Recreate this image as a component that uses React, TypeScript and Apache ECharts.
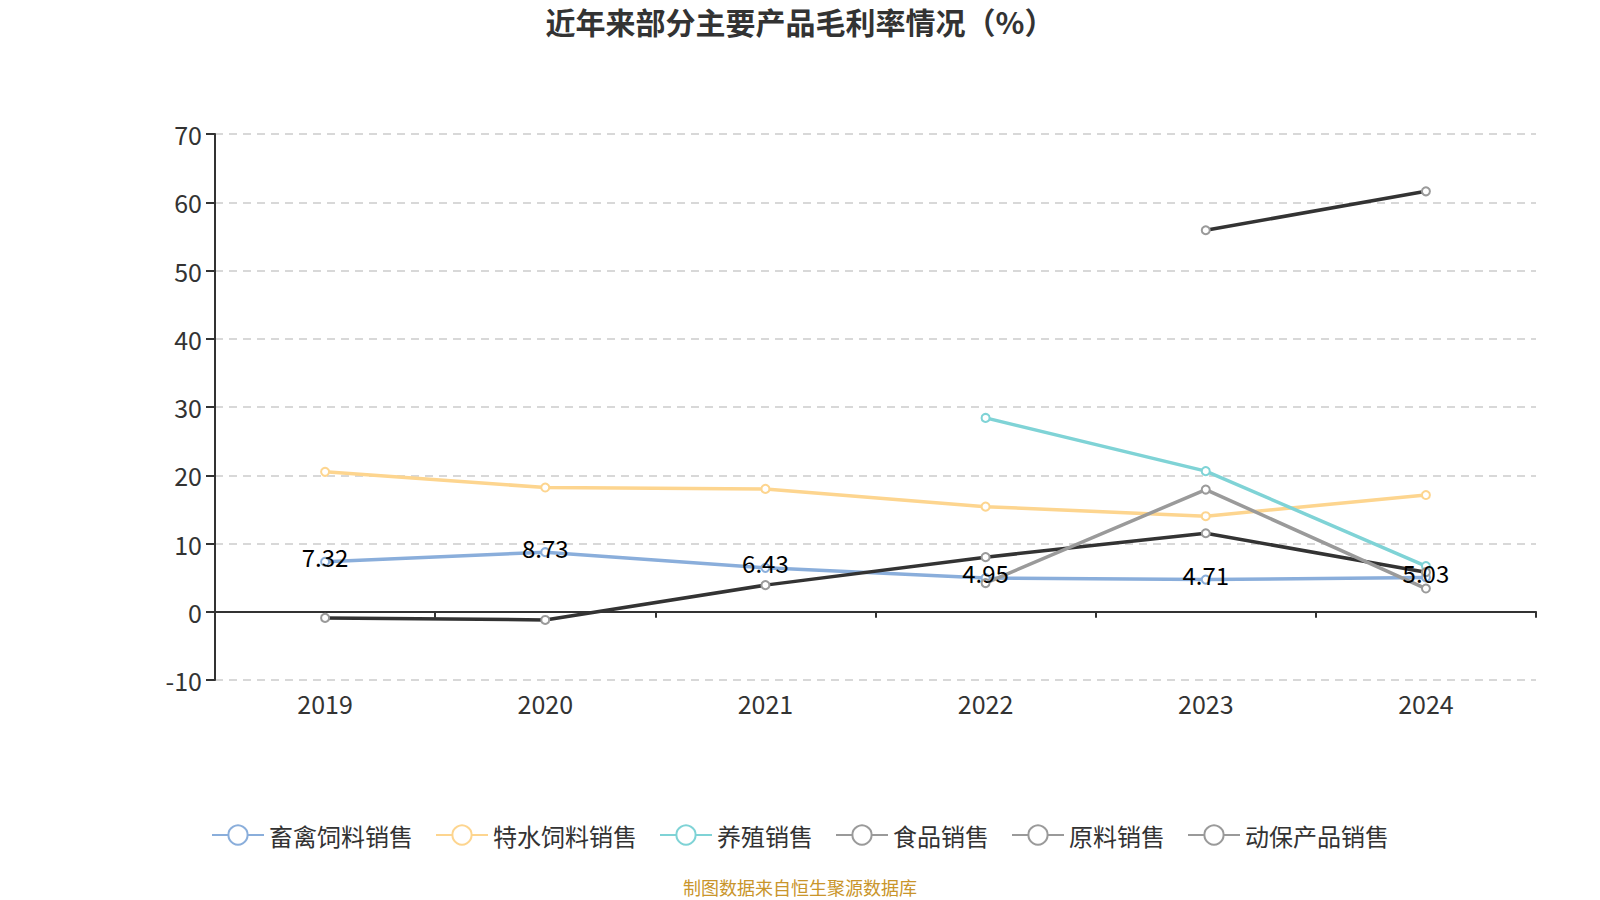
import React, { useEffect, useRef } from "react";
import * as echarts from "echarts";

const years = ["2019", "2020", "2021", "2022", "2023", "2024"];
const livestockFeed = [7.32, 8.73, 6.43, 4.95, 4.71, 5.03];
const specialAquaFeed = [20.5, 18.2, 18.0, 15.4, 14.0, 17.1];
const farming = [null, null, null, 28.4, 20.6, 6.7];
const food = [-0.9, -1.2, 3.9, 8.0, 11.5, 5.8];
const rawMaterial = [null, null, null, 4.2, 17.9, 3.4];
const animalHealth = [null, null, null, null, 55.9, 61.6];

const seriesNames = ["畜禽饲料销售", "特水饲料销售", "养殖销售", "食品销售", "原料销售", "动保产品销售"];
const yTicks = { min: -10, max: 70, interval: 10 };

export default function App() {
  const ref = useRef<HTMLDivElement>(null);
  useEffect(() => {
    if (!ref.current) return;
    const chart = echarts.init(ref.current, undefined, { renderer: "svg" });
    const font = "'Noto Sans CJK SC', 'Noto Sans', sans-serif";
    const grey = "#9a9a9a";
    const mk = (name: string, data: any[], color: string, lineColor: string, label = false) => ({
      name,
      type: "line",
      data,
      symbol: "emptyCircle",
      symbolSize: 8,
      connectNulls: false,
      itemStyle: { color, borderWidth: 2 },
      lineStyle: { color: lineColor, width: 3.5 },
      label: label
        ? { show: true, position: "inside", offset: [0, -5], color: "#000", fontSize: 24, fontFamily: font }
        : { show: false },
    });
    const legendColors = ["#8aaedb", "#fdd58f", "#7fd3d6", grey, grey, grey];
    chart.setOption({
      animation: false,
      backgroundColor: "#fff",
      title: {
        text: "近年来部分主要产品毛利率情况（%）",
        left: "center",
        top: 1,
        textStyle: { fontSize: 30, fontWeight: "bold", color: "#333", fontFamily: font },
      },
      legend: {
        bottom: 48,
        left: "center",
        itemWidth: 52,
        itemHeight: 24,
        itemGap: 22,
        textStyle: { fontSize: 24, color: "#333", fontFamily: font },
        data: seriesNames.map((n, i) => ({
          name: n,
          itemStyle: { color: legendColors[i] },
          lineStyle: { color: legendColors[i] },
        })),
      },
      graphic: [
        {
          type: "text",
          x: 800,
          y: 887,
          style: {
            text: "制图数据来自恒生聚源数据库",
            fill: "#c9952b",
            fontSize: 18,
            fontFamily: font,
            textAlign: "center",
            textVerticalAlign: "middle",
          },
        },
      ],
      grid: { left: 215, right: 64, top: 134, bottom: 220, containLabel: false },
      xAxis: {
        type: "category",
        data: years,
        boundaryGap: true,
        axisLine: { onZero: true, lineStyle: { color: "#333", width: 2 } },
        axisTick: { show: true, length: 6, lineStyle: { color: "#333", width: 2 } },
        axisLabel: { fontSize: 25, color: "#333", margin: 10, fontFamily: font },
      },
      yAxis: {
        type: "value",
        min: yTicks.min,
        max: yTicks.max,
        interval: yTicks.interval,
        axisLine: { show: true, lineStyle: { color: "#333", width: 2 } },
        axisTick: { show: true, length: 9, lineStyle: { color: "#333", width: 2 } },
        axisLabel: { fontSize: 25, color: "#333", margin: 13, fontFamily: font },
        splitLine: { lineStyle: { type: [8, 6], color: "#ccc", width: 1.5 } },
      },
      series: [
        mk(seriesNames[0], livestockFeed, "#8aaedb", "#8aaedb", true),
        mk(seriesNames[1], specialAquaFeed, "#fdd58f", "#fdd58f"),
        mk(seriesNames[2], farming, "#7fd3d6", "#7fd3d6"),
        mk(seriesNames[3], food, grey, "#333333"),
        mk(seriesNames[4], rawMaterial, grey, grey),
        mk(seriesNames[5], animalHealth, grey, "#333333"),
      ],
    });
    return () => chart.dispose();
  }, []);
  return (
    <div style={{ position: "absolute", left: 0, top: 0 }}>
      <div ref={ref} style={{ width: 1600, height: 900 }} />
    </div>
  );
}
